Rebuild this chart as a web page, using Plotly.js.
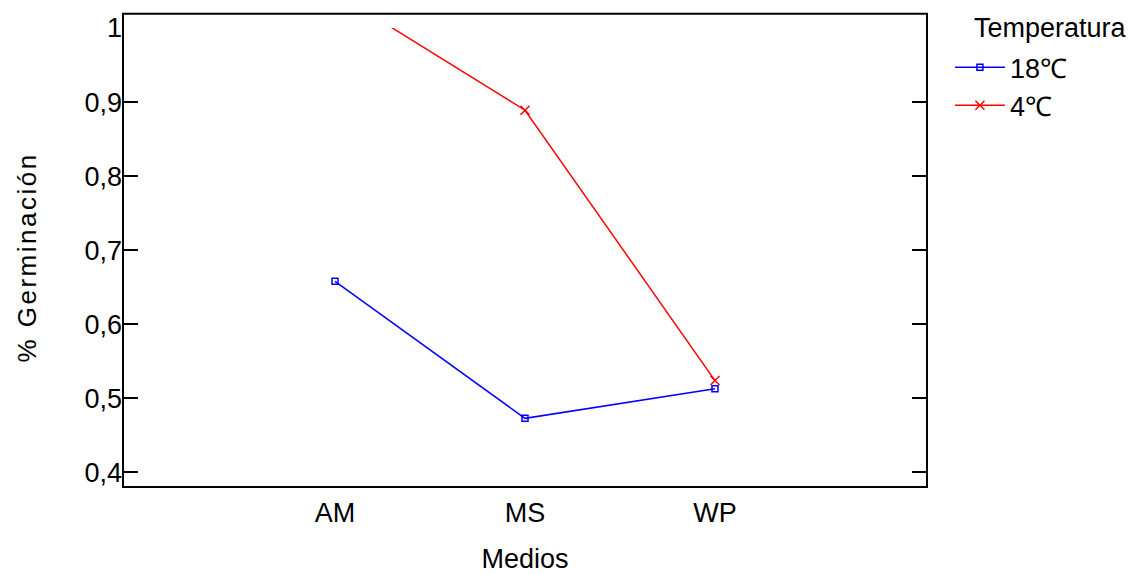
<!DOCTYPE html>
<html>
<head>
<meta charset="utf-8">
<script src="https://cdn.plot.ly/plotly-3.0.1.min.js"></script>
<style>html,body{margin:0;padding:0;background:#fff;}</style>
</head>
<body>
<div id="chart" style="width:1130px;height:574px;"></div>
<script>
const categories = ["AM", "MS", "WP"];
const seriesNames = ["18℃", "4℃"];
const values18 = [0.658, 0.473, 0.513];
const values4 = [1.048, 0.889, 0.524];
const yTicks = [0.4, 0.5, 0.6, 0.7, 0.8, 0.9, 1.0];
const legendTitle = "Temperatura";
const xTitle = "Medios";
const yTitle = "% Germinación";

const FONT = "'Liberation Sans', Arial, sans-serif";

const traces = [
  {
    x: categories, y: values18, name: seriesNames[0], type: "scatter", mode: "lines+markers",
    line: {color: "#0000ff", width: 1.5},
    marker: {symbol: "square-open", size: 6, color: "#0000ff", line: {width: 1.5, color: "#0000ff"}},
    cliponaxis: true
  },
  {
    x: categories, y: values4, name: seriesNames[1], type: "scatter", mode: "lines+markers",
    line: {color: "#ff0000", width: 1.5},
    marker: {symbol: "x-thin-open", size: 9, color: "#ff0000", line: {width: 1.5, color: "#ff0000"}},
    cliponaxis: true
  }
];

const layout = {
  width: 1130, height: 574,
  margin: {l: 123, r: 203, t: 28, b: 87},
  paper_bgcolor: "#fff", plot_bgcolor: "#fff",
  separators: ",.",
  font: {family: FONT, size: 27, color: "#000"},
  showlegend: true,
  legend: {
    x: 1.0285, y: 0.967, xanchor: "left", yanchor: "top",
    font: {family: FONT, size: 27, color: "#000"},
    bgcolor: "rgba(0,0,0,0)", tracegroupgap: 0, itemwidth: 50
  },
  xaxis: {
    type: "category", range: [-1.116, 3.116],
    showgrid: false, zeroline: false, showline: false, ticks: "",
    ticklabelstandoff: 7,
    tickfont: {family: FONT, size: 27, color: "#000"},
    title: {text: xTitle, font: {family: FONT, size: 27, color: "#000"}, standoff: 23},
    fixedrange: true
  },
  yaxis: {
    range: [0.3803, 1.0],
    tickvals: yTicks,
    showgrid: false, zeroline: false, showline: false,
    ticks: "inside", ticklen: 15, tickwidth: 2, tickcolor: "#000", mirror: "ticks",
    tickfont: {family: FONT, size: 27, color: "#000"},
    title: {text: yTitle, font: {family: FONT, size: 26, color: "#000"}, standoff: 40},
    fixedrange: true
  },
  shapes: [
    {type: "rect", xref: "paper", yref: "paper", x0: 0, x1: 1, y0: 0, y1: 1.031,
     line: {color: "#000", width: 2}, fillcolor: "rgba(0,0,0,0)", layer: "above"}
  ],
  annotations: [
    {text: legendTitle, xref: "paper", yref: "paper", x: 1.0, xshift: 202, y: 1.0, xanchor: "right", yanchor: "middle",
     showarrow: false, font: {family: FONT, size: 27, color: "#000"}}
  ]
};

Plotly.newPlot("chart", traces, layout, {displayModeBar: false, staticPlot: true}).then(function(){
  document.querySelectorAll(".ytitle").forEach(function(t){ t.style.letterSpacing = "2.5px"; });
});
</script>
</body>
</html>
